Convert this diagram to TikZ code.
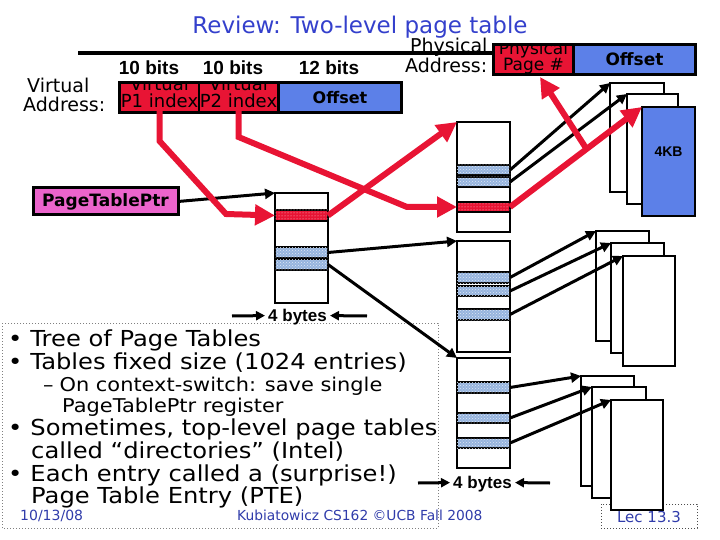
\documentclass[tikz,border=0pt]{standalone}
\usepackage{fontspec}
\setmainfont{DejaVu Sans}
\newfontfamily\arial{Liberation Sans}
\newfontfamily\bulfont{DejaVu Sans}[FakeStretch=1.1]
\usetikzlibrary{arrows.meta,patterns,calc}
\definecolor{myred}{RGB}{232,20,52}
\definecolor{myblue}{RGB}{92,128,232}
\definecolor{mymag}{RGB}{236,100,204}
\definecolor{rowblue}{RGB}{150,180,222}
\definecolor{titleblue}{RGB}{52,64,204}
\definecolor{footblue}{RGB}{48,60,170}
\newcommand\fs[1]{\fontsize{#1}{#1}\selectfont}
\tikzset{
  cell/.style={inner sep=0pt, outer sep=0pt, anchor=north west},
  tbl/.style={draw=black, line width=2.5pt, fill=white},
  redrow/.style={draw=black, line width=2.5pt, fill=myred, postaction={pattern=dots, pattern color=white!80!myred}},
  bluerow/.style={draw=black, line width=2.5pt, fill=rowblue, postaction={pattern=crosshatch dots, pattern color=white!70!rowblue}},
  pagebox/.style={draw=black, line width=2.5pt, fill=white},
  celltext/.style={inner sep=0pt, font=\fs{18}, anchor=base},
  lab/.style={inner sep=0pt, font=\fs{19}, anchor=base west},
  bits/.style={inner sep=0pt, font=\arial\bfseries\fs{19}, anchor=base},
  bul/.style={inner sep=0pt, font=\bulfont\fs{22}, anchor=base west},
  subbul/.style={inner sep=0pt, font=\bulfont\fs{19}, anchor=base west},
  blk/.style={draw=black, line width=3pt, -{Triangle[length=10pt,width=10pt]}},
  redarr/.style={draw=myred, line width=6pt, line join=miter, -{Triangle[length=20pt,width=20pt]}},
  bytes/.style={inner sep=0pt, font=\arial\bfseries\fs{17}, anchor=base},
}
\newcommand\rectnode[6]{\node[cell,#6,minimum width={(#4-#2)*1pt},minimum height={(#5-#3)*1pt}] (#1) at (#2,#3) {};}
\begin{document}
\begin{tikzpicture}[x=1pt,y=-1pt]
\useasboundingbox (0,0) rectangle (720,540);
% text frame
\draw[gray, dotted, line width=1pt] (2,323) rectangle (438,528);
% title
\node[inner sep=0pt, font=\fs{23}, text=titleblue, anchor=base] (title) at (360,34) {Review: Two-level page table};
\draw[line width=3.5pt] (78,53) -- (493,53);
% labels
\node[bits] (b1) at (149,75) {10 bits};
\node[bits] (b2) at (233,75) {10 bits};
\node[bits] (b3) at (329,75) {12 bits};
\node[lab] (vl1) at (27,93) {Virtual};
\node[lab] (vl2) at (23,112) {Address:};
\node[lab] (pl1) at (410,53) {Physical};
\node[lab] (pl2) at (405,73) {Address:};
% virtual address
\rectnode{va}{118}{81}{403}{114}{fill=black}
\rectnode{p1}{121}{84}{198}{111}{fill=myred}
\rectnode{p2}{200}{84}{277}{111}{fill=myred}
\rectnode{voff}{280}{84}{400}{111}{fill=myblue}
\begin{scope}
\clip (121,84) rectangle (198,111);
\node[celltext] (p1a) at (159.5,91) {Virtual};
\node[celltext] (p1b) at (159.5,108) {P1 index};
\end{scope}
\begin{scope}
\clip (200,84) rectangle (277,111);
\node[celltext] (p2a) at (238.5,91) {Virtual};
\node[celltext] (p2b) at (238.5,108) {P2 index};
\end{scope}
\node[inner sep=0pt, font=\bfseries\fs{16}] (vofft) at (voff.center) {Offset};
% physical address
\rectnode{pa}{492}{43}{697}{76}{fill=black}
\rectnode{ppn}{495}{46}{572}{73}{fill=myred}
\rectnode{poff}{575}{46}{694}{73}{fill=myblue}
\begin{scope}
\clip (495,46) rectangle (572,73);
\node[celltext, font=\fs{17}] (ppa) at (533.5,55) {Physical};
\node[celltext, font=\fs{17}] (ppb) at (533.5,71) {Page \#};
\end{scope}
\node[inner sep=0pt, font=\bfseries\fs{17}] (pofft) at (poff.center) {Offset};
% page table ptr
\rectnode{ptr}{33}{188}{178}{215}{fill=mymag, draw=black, line width=3pt}
\node[inner sep=0pt, font=\bfseries\fs{17}] (ptrt) at (ptr.center) {PageTablePtr};
% top-level table
\rectnode{t1}{275}{193}{328}{303}{tbl}
\rectnode{t1r}{275}{210}{328}{221}{redrow}
\rectnode{t1b1}{275}{247}{328}{258}{bluerow}
\rectnode{t1b2}{275}{259}{328}{270}{bluerow}
% second-level tables
\rectnode{tA}{457}{122}{510}{232}{tbl}
\rectnode{tAb1}{457}{165}{510}{175}{bluerow}
\rectnode{tAb2}{457}{177}{510}{187}{bluerow}
\rectnode{tAr}{457}{202}{510}{212}{redrow}
\rectnode{tB}{457}{241}{510}{352}{tbl}
\rectnode{tBb1}{457}{272}{510}{283}{bluerow}
\rectnode{tBb2}{457}{286}{510}{296}{bluerow}
\rectnode{tBb3}{457}{309}{510}{320}{bluerow}
\rectnode{tC}{457}{358}{510}{468}{tbl}
\rectnode{tCb1}{457}{382}{510}{393}{bluerow}
\rectnode{tCb2}{457}{413}{510}{423}{bluerow}
\rectnode{tCb3}{457}{438}{510}{448}{bluerow}
% lec box
\draw[dotted, line width=1pt, gray!60!black] (601,504) rectangle (697,528);
\node[inner sep=0pt, font=\fs{15}, text=footblue] (lec) at (649,517) {Lec 13.3};
% pages
\rectnode{pg11}{610}{83}{664}{192}{pagebox}
\rectnode{pg12}{627}{94}{678}{204}{pagebox}
\rectnode{pg13}{642}{107}{695}{216}{pagebox, fill=myblue}
\node[inner sep=0pt, font=\arial\bfseries\fs{14}] (kb) at (668.5,152) {4KB};
\rectnode{pg21}{596}{231}{649}{341}{pagebox}
\rectnode{pg22}{611}{243}{664}{353}{pagebox}
\rectnode{pg23}{623}{256}{675}{366}{pagebox}
\rectnode{pg31}{581}{376}{634}{486}{pagebox}
\rectnode{pg32}{592}{387}{646}{498}{pagebox}
\rectnode{pg33}{611}{400}{663}{510}{pagebox}
% black arrows
\draw[blk] (ptr.east) -- (t1.north west);
\draw[blk] (t1b1.east) -- (tB.north west);
\draw[blk] (t1b2.east) -- (tC.north west);
\draw[blk] (tAb1.east) -- (pg11.north west);
\draw[blk] (tAb2.east) -- (pg12.north west);
\draw[blk] (tBb1.east) -- (pg21.north west);
\draw[blk] (tBb2.east) -- (pg22.north west);
\draw[blk] (tBb3.east) -- (pg23.north west);
\draw[blk] (tCb1.east) -- (pg31.north west);
\draw[blk] (tCb2.east) -- (pg32.north west);
\draw[blk] (tCb3.east) -- (pg33.north west);
% red arrows
\draw[redarr] (p1.south) -- (159.5,141) -- (226,214) -- (t1r.west);
\draw[redarr] (p2.south) -- (238.5,137) -- (407,207) -- (tAr.west);
\draw[redarr] (t1r.east) -- (tA.north west);
\coordinate (junc) at ($(tAr.east)!0.58!(pg13.north west)$);
\coordinate (ppntip) at (540,77);
\draw[redarr] (tAr.east) -- (pg13.north west);
\draw[redarr] (junc) -- (ppntip);
% 4 bytes
\node[bytes] (by1) at (297.5,321) {4 bytes};
\coordinate (by1l) at (232,316);
\coordinate (by1r) at (367,316);
\draw[blk, -{Triangle[length=9pt,width=9pt]}] (by1l) -- ($(by1.west)+(-3,-1)$);
\draw[blk, -{Triangle[length=9pt,width=9pt]}] (by1r) -- ($(by1.east)+(3,-1)$);
\node[bytes] (by2) at (482.5,488) {4 bytes};
\coordinate (by2l) at (418,483);
\coordinate (by2r) at (550,483);
\draw[blk, -{Triangle[length=9pt,width=9pt]}] (by2l) -- ($(by2.west)+(-3,-1)$);
\draw[blk, -{Triangle[length=9pt,width=9pt]}] (by2r) -- ($(by2.east)+(3,-1)$);
% bullets
\node[bul] (l1) at (8,346) {•\hspace{8pt}Tree of Page Tables};
\node[bul] (l2) at (8,369) {•\hspace{8pt}Tables fixed size (1024 entries)};
\node[subbul] (l3) at (43,391) {–\hspace{6pt}On context-switch: save single};
\node[subbul] (l4) at (62,412) {PageTablePtr register};
\node[bul] (l5) at (8,435) {•\hspace{8pt}Sometimes, top-level page tables};
\node[bul] (l6) at (31,458) {called “directories” (Intel)};
\node[bul] (l7) at (8,481) {•\hspace{8pt}Each entry called a (surprise!)};
\node[bul] (l8) at (31,503) {Page Table Entry (PTE)};
% footer
\node[inner sep=0pt, font=\fs{14}, text=footblue, anchor=base west] (date) at (20,520) {10/13/08};
\node[inner sep=0pt, font=\fs{13.8}, text=footblue, anchor=base west] (foot) at (237,520) {Kubiatowicz CS162 ©UCB Fall 2008};
\end{tikzpicture}
\end{document}
